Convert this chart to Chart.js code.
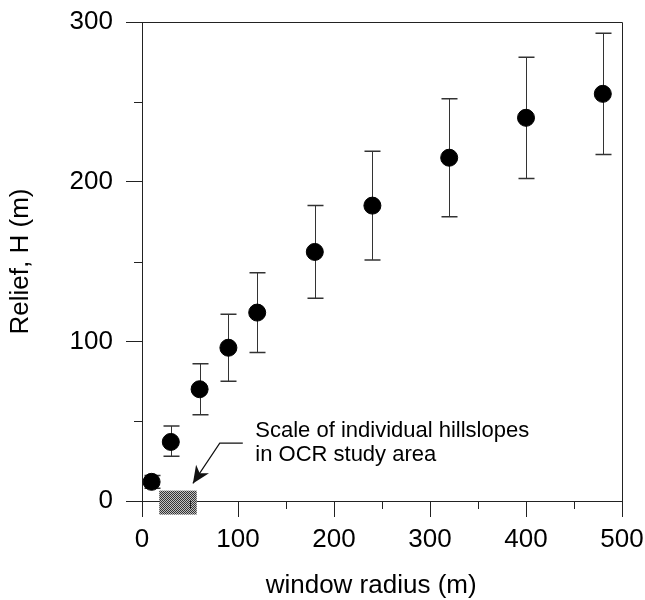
<!DOCTYPE html>
<html>
<head>
<meta charset="utf-8">
<script src="https://cdn.jsdelivr.net/npm/chart.js@4.4.1/dist/chart.umd.min.js"></script>
<style>
  html, body { margin: 0; padding: 0; background: #fff; }
</style>
</head>
<body>
<canvas id="reliefChart" width="645" height="600"></canvas>
<script>
// window radius (m) and mean relief with its spread
const radius     = [10, 30, 60, 90, 120, 180, 240, 320, 400, 480];
const relief     = [12, 37, 70, 96, 118, 156, 185, 215, 240, 255];
const reliefLow  = [8, 28, 54, 75, 93, 127, 151, 178, 202, 217];
const reliefHigh = [16, 47, 86, 117, 143, 185, 219, 252, 278, 293];

// range of hillslope scale in the study area (m)
const hillslopeScale = [18, 57];

const xMajorTicks = [0, 100, 200, 300, 400, 500];
const xMinorTicks = [50, 150, 250, 350, 450];
const yMajorTicks = [0, 100, 200, 300];
const yMinorTicks = [50, 150, 250];

const noteLines = ['Scale of individual hillslopes', 'in OCR study area'];

const FONT = "'Liberation Sans', Arial, sans-serif";

// dithered grey like the print
function ditherPattern(ctx) {
  const c = document.createElement('canvas');
  c.width = 2; c.height = 2;
  const g = c.getContext('2d');
  g.fillStyle = '#c0c0c0'; g.fillRect(0, 0, 2, 2);
  g.fillStyle = '#333'; g.fillRect(0, 0, 1, 1); g.fillRect(1, 1, 1, 1);
  return ctx.createPattern(c, 'repeat');
}

// no extra room for edge labels, keep the plot box where it is
function noEdgePadding(s) {
  s.paddingTop = 0; s.paddingBottom = 0;
  s.paddingLeft = 0; s.paddingRight = 0;
}

const extras = {
  id: 'extras',
  beforeDatasetsDraw(chart) {
    const {ctx, chartArea: a, scales: {x, y}} = chart;
    ctx.save();

    // top and right frame
    ctx.strokeStyle = '#222';
    ctx.lineWidth = 1;
    ctx.beginPath();
    ctx.moveTo(a.left, a.top + 0.5);
    ctx.lineTo(Math.round(a.right) + 0.5, a.top + 0.5);
    ctx.lineTo(Math.round(a.right) + 0.5, a.bottom);
    ctx.stroke();

    // hillslope box straddling the axis
    const bx0 = x.getPixelForValue(hillslopeScale[0]);
    const bx1 = x.getPixelForValue(hillslopeScale[1]);
    const by0 = y.getPixelForValue(6.5);
    const by1 = y.getPixelForValue(-8.5);
    ctx.fillStyle = ditherPattern(ctx);
    ctx.fillRect(bx0, by0, bx1 - bx0, by1 - by0);

    // minor ticks
    ctx.strokeStyle = '#222';
    ctx.beginPath();
    xMinorTicks.forEach(v => {
      const px = Math.round(x.getPixelForValue(v)) + 0.5;
      ctx.moveTo(px, a.bottom);
      ctx.lineTo(px, a.bottom + 8);
    });
    yMinorTicks.forEach(v => {
      const py = Math.round(y.getPixelForValue(v)) + 0.5;
      ctx.moveTo(a.left, py);
      ctx.lineTo(a.left - 8, py);
    });
    ctx.stroke();

    // error bars
    ctx.strokeStyle = '#333';
    radius.forEach((r, i) => {
      const px = Math.round(x.getPixelForValue(r)) + 0.5;
      const lo = y.getPixelForValue(reliefLow[i]);
      const hi = y.getPixelForValue(reliefHigh[i]);
      ctx.lineWidth = 1;
      ctx.beginPath();
      ctx.moveTo(px, lo); ctx.lineTo(px, hi);
      ctx.stroke();
      ctx.lineWidth = 1.5;
      ctx.beginPath();
      ctx.moveTo(px - 8, hi); ctx.lineTo(px + 8, hi);
      ctx.moveTo(px - 8, lo); ctx.lineTo(px + 8, lo);
      ctx.stroke();
    });

    // arrow to the box
    const tip = [x.getPixelForValue(53), y.getPixelForValue(11)];
    const elbow = [x.getPixelForValue(81), y.getPixelForValue(36.2)];
    const end = [x.getPixelForValue(105), y.getPixelForValue(36.2)];
    ctx.strokeStyle = '#111';
    ctx.lineWidth = 1.2;
    ctx.beginPath();
    ctx.moveTo(end[0], end[1]);
    ctx.lineTo(elbow[0], elbow[1]);
    ctx.lineTo(tip[0], tip[1]);
    ctx.stroke();
    const ang = Math.atan2(tip[1] - elbow[1], tip[0] - elbow[0]);
    const len = 19, spread = 0.42;
    ctx.fillStyle = '#111';
    ctx.beginPath();
    ctx.moveTo(tip[0], tip[1]);
    ctx.lineTo(tip[0] - len * Math.cos(ang - spread), tip[1] - len * Math.sin(ang - spread));
    ctx.lineTo(tip[0] - len * 0.65 * Math.cos(ang), tip[1] - len * 0.65 * Math.sin(ang));
    ctx.lineTo(tip[0] - len * Math.cos(ang + spread), tip[1] - len * Math.sin(ang + spread));
    ctx.closePath();
    ctx.fill();

    // note text
    ctx.fillStyle = '#000';
    ctx.font = '22px ' + FONT;
    ctx.textAlign = 'left';
    ctx.textBaseline = 'alphabetic';
    const tx = x.getPixelForValue(118);
    ctx.fillText(noteLines[0], tx, y.getPixelForValue(40));
    ctx.fillText(noteLines[1], tx, y.getPixelForValue(25.2));

    ctx.restore();
  }
};

const ctx = document.getElementById('reliefChart').getContext('2d');
new Chart(ctx, {
  type: 'scatter',
  data: {
    datasets: [{
      data: radius.map((r, i) => ({x: r, y: relief[i]})),
      backgroundColor: '#000',
      borderColor: '#000',
      pointRadius: 8.5,
      pointHoverRadius: 8.5
    }]
  },
  options: {
    responsive: false,
    animation: false,
    devicePixelRatio: 1,
    layout: { padding: { top: 22, right: 23, left: 0, bottom: 0 } },
    plugins: { legend: { display: false }, tooltip: { enabled: false } },
    scales: {
      x: {
        type: 'linear',
        min: 0, max: 500,
        afterFit: s => { s.height = 99; noEdgePadding(s); },
        afterBuildTicks: s => { s.ticks = xMajorTicks.map(v => ({value: v})); },
        grid: { drawOnChartArea: false, tickLength: 16, tickColor: '#222' },
        border: { color: '#222', width: 1 },
        ticks: { color: '#000', padding: 7, maxRotation: 0, font: { family: FONT, size: 26 } },
        title: {
          display: true, text: 'window radius (m)   ', color: '#000',
          font: { family: FONT, size: 26, lineHeight: 1 }, padding: { top: 0, bottom: 1 }
        }
      },
      y: {
        type: 'linear',
        min: 0, max: 300,
        afterFit: s => { s.width = 142; noEdgePadding(s); },
        afterBuildTicks: s => { s.ticks = yMajorTicks.map(v => ({value: v})); },
        grid: { drawOnChartArea: false, tickLength: 16, tickColor: '#222' },
        border: { color: '#222', width: 1 },
        ticks: { color: '#000', padding: 13, font: { family: FONT, size: 26 } },
        title: {
          display: true, text: 'Relief, H (m)', color: '#000',
          font: { family: FONT, size: 26, lineHeight: 1 }, padding: { top: 8, bottom: 0 }
        }
      }
    }
  },
  plugins: [extras]
});
</script>
</body>
</html>
